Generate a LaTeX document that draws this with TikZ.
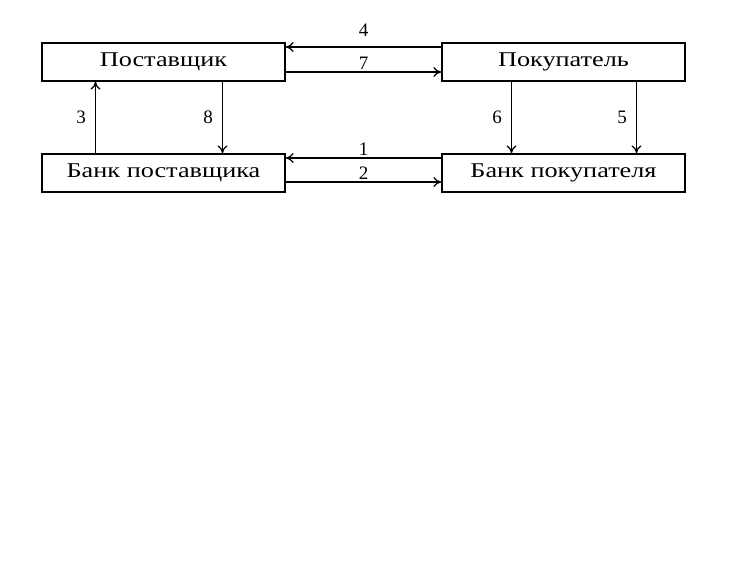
\documentclass[tikz,border=0pt]{standalone}
\usepackage{fontspec}
\setmainfont{Liberation Serif}
\usetikzlibrary{positioning,arrows.meta}
\tikzset{
  party/.style={draw,line width=1.3pt,minimum width=243pt,minimum height=38pt,inner sep=0pt,font=\fontsize{21}{24}\selectfont},
  flow/.style={-{To[length=8pt,width=10pt]},line width=1.2pt},
  num/.style={font=\fontsize{19}{21}\selectfont,inner sep=1pt}
}
\begin{document}
\begin{tikzpicture}[x=1pt,y=-1pt]
  \useasboundingbox (0,0) rectangle (730,577);
  \node[party] (sup) at (163.5,62) {\addfontfeatures{FakeStretch=1.25}Поставщик};
  \node[party] (buy) at (563.5,62) {\addfontfeatures{FakeStretch=1.25}Покупатель};
  \node[party] (supbank) at (163.5,173) {\addfontfeatures{FakeStretch=1.25}Банк поставщика};
  \node[party] (buybank) at (563.5,173) {\addfontfeatures{FakeStretch=1.25}Банк покупателя};
  % top flows
  \draw[flow] ([yshift=15pt]buy.west) -- node[num,above=9pt]{4} ([yshift=15pt]sup.east);
  \draw[flow] ([yshift=-10pt]sup.east) -- node[num,above=1pt]{7} ([yshift=-10pt]buy.west);
  % bottom flows
  \draw[flow] ([yshift=15pt]buybank.west) -- node[num,above=1pt]{1} ([yshift=15pt]supbank.east);
  \draw[flow] ([yshift=-9pt]supbank.east) -- node[num,above=1pt]{2} ([yshift=-9pt]buybank.west);
  % vertical flows
  \draw[flow] ([xshift=-68pt]supbank.north) -- node[num,left=8pt]{3} ([xshift=-68pt]sup.south);
  \draw[flow] ([xshift=59pt]sup.south) -- node[num,left=8pt]{8} ([xshift=59pt]supbank.north);
  \draw[flow] ([xshift=-52pt]buy.south) -- node[num,left=8pt]{6} ([xshift=-52pt]buybank.north);
  \draw[flow] ([xshift=73pt]buy.south) -- node[num,left=8pt]{5} ([xshift=73pt]buybank.north);
\end{tikzpicture}
\end{document}
